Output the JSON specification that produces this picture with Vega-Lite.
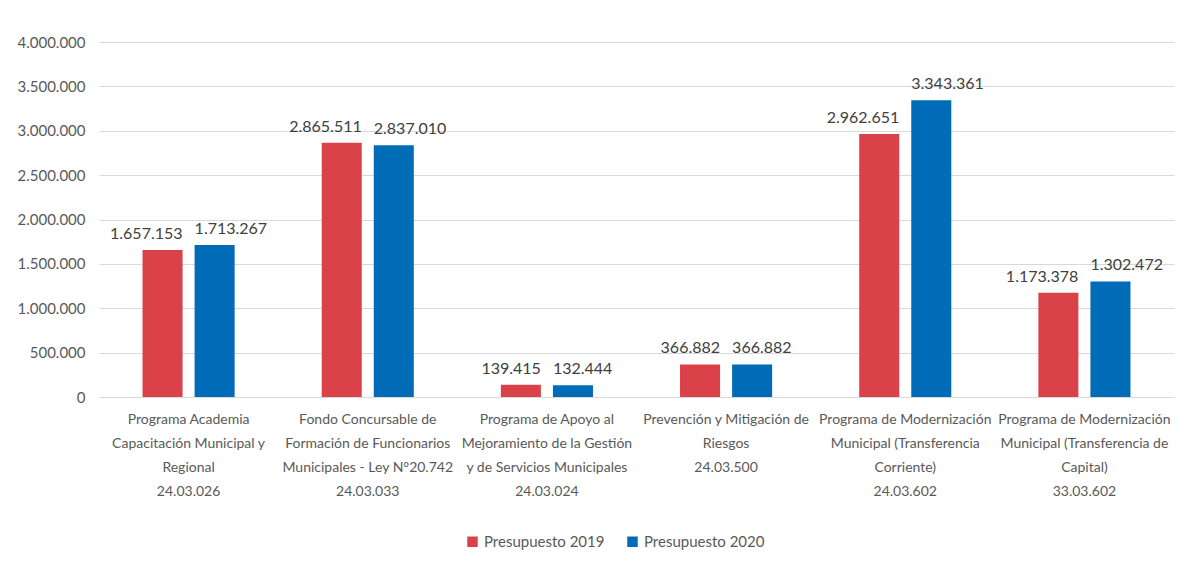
{
  "$schema": "https://vega.github.io/schema/vega-lite/v6.json",
  "width": 1075,
  "height": 355,
  "padding": {"left": 17, "top": 35, "right": 5, "bottom": 5},
  "background": "white",
  "config": {
    "locale": {"number": {"decimal": ",", "thousands": ".", "grouping": [3], "currency": ["$", ""]}},
    "view": {"stroke": null},
    "font": "Lato"
  },
  "data": {
    "values": [
      {"cat": "Programa Academia|Capacitación Municipal y|Regional|24.03.026", "serie": "Presupuesto 2019", "valor": 1657153},
      {"cat": "Programa Academia|Capacitación Municipal y|Regional|24.03.026", "serie": "Presupuesto 2020", "valor": 1713267},
      {"cat": "Fondo Concursable de|Formación de Funcionarios|Municipales - Ley N°20.742|24.03.033", "serie": "Presupuesto 2019", "valor": 2865511},
      {"cat": "Fondo Concursable de|Formación de Funcionarios|Municipales - Ley N°20.742|24.03.033", "serie": "Presupuesto 2020", "valor": 2837010},
      {"cat": "Programa de Apoyo al|Mejoramiento de la Gestión|y de Servicios Municipales|24.03.024", "serie": "Presupuesto 2019", "valor": 139415},
      {"cat": "Programa de Apoyo al|Mejoramiento de la Gestión|y de Servicios Municipales|24.03.024", "serie": "Presupuesto 2020", "valor": 132444},
      {"cat": "Prevención y Mitigación de|Riesgos|24.03.500", "serie": "Presupuesto 2019", "valor": 366882},
      {"cat": "Prevención y Mitigación de|Riesgos|24.03.500", "serie": "Presupuesto 2020", "valor": 366882},
      {"cat": "Programa de Modernización|Municipal (Transferencia|Corriente)|24.03.602", "serie": "Presupuesto 2019", "valor": 2962651},
      {"cat": "Programa de Modernización|Municipal (Transferencia|Corriente)|24.03.602", "serie": "Presupuesto 2020", "valor": 3343361},
      {"cat": "Programa de Modernización|Municipal (Transferencia de|Capital)|33.03.602", "serie": "Presupuesto 2019", "valor": 1173378},
      {"cat": "Programa de Modernización|Municipal (Transferencia de|Capital)|33.03.602", "serie": "Presupuesto 2020", "valor": 1302472}
    ]
  },
  "encoding": {
    "x": {
      "field": "cat", "type": "nominal", "sort": null, "title": null,
      "scale": {"paddingInner": 0.486, "paddingOuter": 0.243},
      "axis": {
        "labelExpr": "split(datum.value, '|')",
        "labelAngle": 0, "labelFontSize": 14, "labelColor": "#595959",
        "labelLineHeight": 24, "labelPadding": 15, "labelBaseline": "top",
        "ticks": false, "domainColor": "#D9D9D9", "labelLimit": 300
      }
    },
    "xOffset": {"field": "serie", "type": "nominal", "scale": {"paddingInner": 0.231, "paddingOuter": 0}},
    "y": {
      "field": "valor", "type": "quantitative", "title": null,
      "scale": {"domain": [0, 4000000]},
      "axis": {
        "values": [0, 500000, 1000000, 1500000, 2000000, 2500000, 3000000, 3500000, 4000000],
        "format": ",d", "domain": false, "ticks": false, "labelPadding": 14,
        "labelFontSize": 15, "labelColor": "#595959", "gridColor": "#D9D9D9"
      }
    }
  },
  "layer": [
    {
      "mark": {"type": "bar"},
      "encoding": {
        "color": {
          "field": "serie", "type": "nominal",
          "scale": {"domain": ["Presupuesto 2019", "Presupuesto 2020"], "range": ["#DB4148", "#006BB7"]},
          "legend": {
            "orient": "none", "legendX": 366, "legendY": 492, "direction": "horizontal", "title": null,
            "symbolType": "square", "symbolSize": 110, "symbolStrokeWidth": 0, "labelOffset": 4,
            "labelFontSize": 15, "labelColor": "#595959", "columnPadding": 20
          }
        }
      }
    },
    {
      "transform": [{"filter": "datum.serie == 'Presupuesto 2019'"}],
      "mark": {"type": "text", "align": "right", "baseline": "bottom", "dx": 20, "dy": -8, "fontSize": 16, "color": "#404040"},
      "encoding": {"text": {"field": "valor", "type": "quantitative", "format": ",d"}}
    },
    {
      "transform": [{"filter": "datum.serie == 'Presupuesto 2020'"}],
      "mark": {"type": "text", "align": "left", "baseline": "bottom", "dx": -20, "dy": -8, "fontSize": 16, "color": "#404040"},
      "encoding": {"text": {"field": "valor", "type": "quantitative", "format": ",d"}}
    }
  ]
}
